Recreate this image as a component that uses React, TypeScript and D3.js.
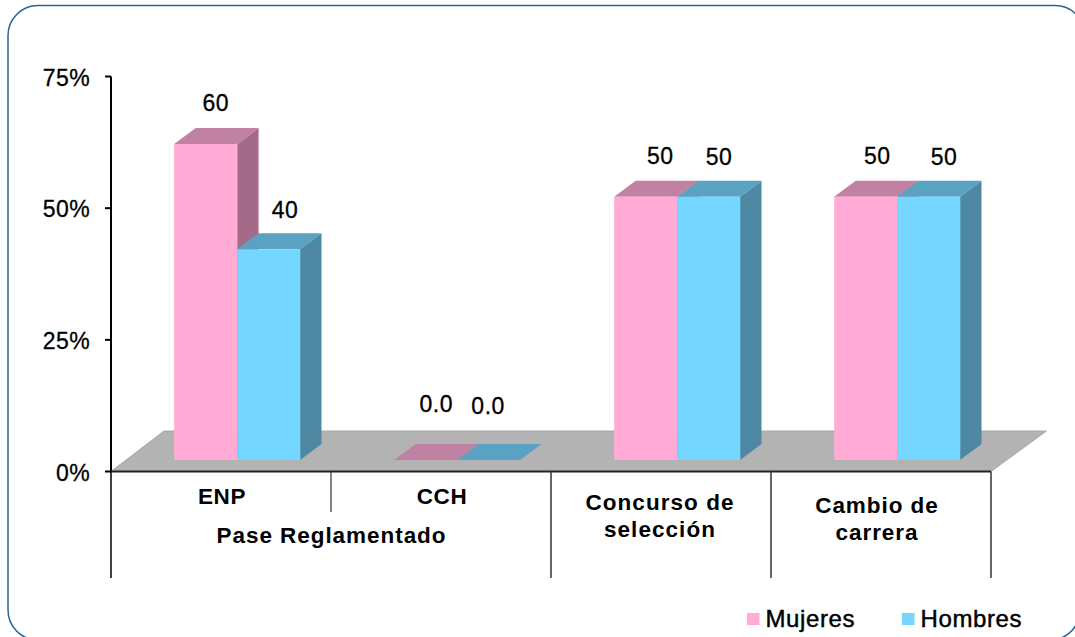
import React from "react";
import * as d3 from "d3";

const categories = ["ENP", "CCH", "Concurso de selección", "Cambio de carrera"];
const categoryLines = [["ENP"], ["CCH"], ["Concurso de", "selección"], ["Cambio de", "carrera"]];
const seriesNames = ["Mujeres", "Hombres"];
const mujeres = [60, 0, 50, 50];
const hombres = [40, 0, 50, 50];
const valueLabels = [["60", "0.0", "50", "50"], ["40", "0.0", "50", "50"]];
const yTicks = [0, 25, 50, 75];
const groupLabel = "Pase Reglamentado";

const W = 1075, H = 637;
const FONT = "'Liberation Sans', Arial, sans-serif";
const faces = [
  { front: "#ffabd6", top: "#c181a2", side: "#a36b88" },
  { front: "#75d6ff", top: "#5aa2c1", side: "#4e88a3" },
];
const DX = 21.5, DY = 16, LIFT = 11.5, BAR_W = 62.9, BAR_OFF = 63.2;
// value-label offsets: across from the bar's left edge, and rise above its top
const labelAcross = [[41.5, 42, 46, 43], [48, 31, 42, 47]];
const labelRise = [[33, 48, 33, 33], [31, 46.5, 32, 32]];
// category-label placement relative to band centre, and first baseline
const catShift = [1, 1, -1, -4];
const catBaseline = [504, 504, 509.5, 512.5];
const catLeading = 27;
const catSpacing = [0.6, 0.6, 1.05, 0.95];

const y = d3.scaleLinear().domain([0, 75]).range([471.5, 76.5]);
const x0 = d3.scaleBand<string>().domain(categories).range([111, 991]);
const poly = (pts: number[][]) => (d3.line()(pts as [number, number][]) ?? "") + "Z";

const TXT = { fontSize: 23, stroke: "#000", strokeWidth: 0.3 };

export default function App() {
  const base = y(0);
  const data = [mujeres, hombres];
  const bw = x0.bandwidth();
  const boundaries = d3.range(categories.length + 1).map((i) => 111 + i * bw);
  return (
    <svg width={W} height={H} style={{ position: "absolute", left: 0, top: 0, background: "#fff" }} fontFamily={FONT} fill="#000">
      <path d="M8,610 L8,36 A30,30 0 0 1 38,5.5 L1055,5.5 A30,30 0 0 1 1085,35.5 L1080,610 A30,30 0 0 1 1050,640 L38,640 A30,30 0 0 1 8,610 Z" fill="#fff" stroke="#2a6496" strokeWidth={1.5} />
      {/* floor */}
      <path d={poly([[111, base], [111 + 53, base - 40.5], [1046.5, base - 40.5], [991, base]])} fill="#b3b3b3" stroke="#a8a8a8" strokeWidth={1} />
      {/* y axis */}
      <line x1={111} x2={111} y1={y(75)} y2={base} stroke="#000" strokeWidth={2} />
      {yTicks.map((t) => (
        <g key={t}>
          <line x1={105} x2={111} y1={y(t)} y2={y(t)} stroke="#000" strokeWidth={2} />
          <text x={90} y={y(t) + 9} textAnchor="end" {...TXT} letterSpacing={0.4}>{t}%</text>
        </g>
      ))}
      {/* category axis */}
      <line x1={111} x2={991} y1={base} y2={base} stroke="#222" strokeWidth={2} />
      <line x1={111} x2={111} y1={base} y2={578} stroke="#000" strokeWidth={1.5} />
      <line x1={boundaries[1]} x2={boundaries[1]} y1={base} y2={512} stroke="#333" strokeWidth={1.2} />
      {boundaries.slice(2).map((b) => (
        <line key={b} x1={b} x2={b} y1={base} y2={578} stroke="#333" strokeWidth={1.5} />
      ))}
      {/* bars */}
      {categories.map((c, ci) =>
        [0, 1].map((s) => {
          const v = data[s][ci];
          const l = x0(c)! + BAR_OFF + s * BAR_W;
          const r = l + BAR_W;
          const bottom = base - LIFT;
          const top = bottom - (base - y(v));
          const f = faces[s];
          return (
            <g key={c + s}>
              {v > 0 && <path d={poly([[r, top], [r + DX, top - DY], [r + DX, bottom - DY], [r, bottom]])} fill={f.side} />}
              <path d={poly([[l, top], [l + DX, top - DY], [r + DX, top - DY], [r, top]])} fill={f.top} />
              {v > 0 && <rect x={l} y={top} width={BAR_W + 0.3} height={bottom - top} fill={f.front} />}
            </g>
          );
        })
      )}
      {/* value labels */}
      {categories.map((c, ci) =>
        [0, 1].map((s) => {
          const v = data[s][ci];
          const l = x0(c)! + BAR_OFF + s * BAR_W;
          const top = base - LIFT - (base - y(v));
          return (
            <text key={c + s} x={l + labelAcross[s][ci]} y={top - labelRise[s][ci]} textAnchor="middle" {...TXT} letterSpacing={0.5}>
              {valueLabels[s][ci]}
            </text>
          );
        })
      )}
      {/* category labels */}
      {categoryLines.map((lines, ci) => {
        const cx = x0(categories[ci])! + bw / 2 + catShift[ci];
        return lines.map((ln, li) => (
          <text key={ln} x={cx} y={catBaseline[ci] + li * catLeading} textAnchor="middle" fontSize={22.5} fontWeight={700} letterSpacing={catSpacing[ci]} fill="#000">
            {ln}
          </text>
        ));
      })}
      <text x={331.5} y={543} textAnchor="middle" fontSize={22.5} fontWeight={700} letterSpacing={0.95}>{groupLabel}</text>
      {/* legend */}
      {seriesNames.map((n, i) => {
        const lx = [747, 902][i];
        return (
          <g key={n}>
            <rect x={lx} y={613} width={12.5} height={12} fill={faces[i].front} />
            <text x={lx + 18.5} y={627} fontSize={24} letterSpacing={0.6} stroke="#000" strokeWidth={0.45}>{n}</text>
          </g>
        );
      })}
    </svg>
  );
}
